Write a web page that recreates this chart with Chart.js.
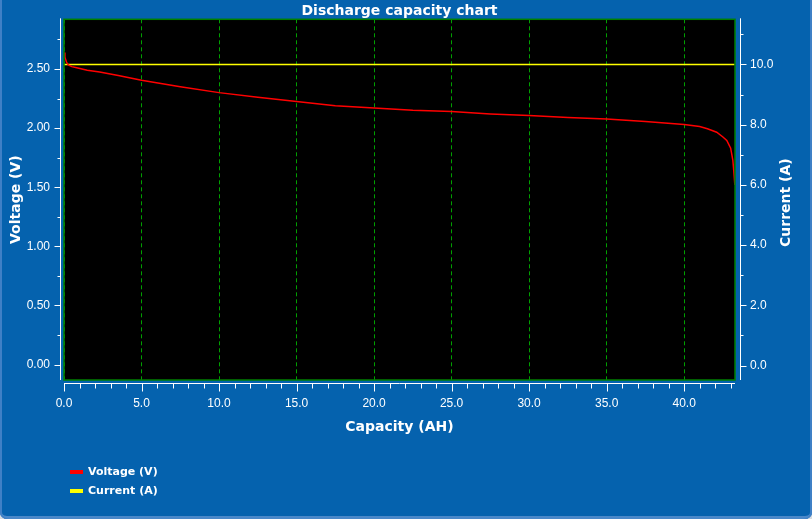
<!DOCTYPE html>
<html>
<head>
<meta charset="utf-8">
<script src="https://cdn.jsdelivr.net/npm/chart.js@4.4.1/dist/chart.umd.min.js"></script>
<style>
  html, body { margin: 0; padding: 0; background: #d8dde3; }
  #wrap {
    position: relative; width: 812px; height: 519px;
    background: #0562ae;
    border-radius: 0 0 7px 7px;
    box-shadow: inset 2px 0 0 #3f80c6, inset -2px 0 0 #3f80c6, inset 0 -3px 0 #4a88c9;
  }
</style>
</head>
<body>
<div id="wrap"><canvas id="my-chart"></canvas></div>
<script>
// discharge curve
const capacity = [0, 0.06, 0.17, 0.28, 0.5, 0.82, 1.5, 2.3, 3.5, 5, 7.5, 10, 12.5, 15, 17.5, 20, 22.5, 25, 27.5, 30, 32.5, 35, 37.5, 40, 41, 41.5, 42.1, 42.5, 42.75, 43.0, 43.14, 43.2, 43.27];
const voltage = [2.64, 2.60, 2.555, 2.535, 2.52, 2.51, 2.49, 2.475, 2.445, 2.405, 2.35, 2.30, 2.26, 2.225, 2.19, 2.17, 2.15, 2.14, 2.12, 2.106, 2.09, 2.078, 2.055, 2.03, 2.013, 1.995, 1.965, 1.925, 1.895, 1.83, 1.73, 1.64, 1.52];
const currentCap = [0, 43.27];
const current = [10.0, 10.0];

const xTicks = [0, 5, 10, 15, 20, 25, 30, 35, 40];
const voltTicks = [0, 0.5, 1.0, 1.5, 2.0, 2.5];
const currTicks = [0, 2, 4, 6, 8, 10];
const currTitle = 'Current (A)';

const white = '#ffffff';
const tickFont = { family: "'Liberation Sans', sans-serif", size: 12 };
const boldFont = { family: "'DejaVu Sans', sans-serif", size: 14, weight: 'bold' };

// no extra room for the tick padding at the ends of the axes
const noPad = s => { s.paddingTop = 0; s.paddingBottom = 0; s.paddingLeft = 0; s.paddingRight = 0; };

// black plot, green frame, offset white axes with minor ticks, legend below
const framePlugin = {
    id: 'frame',
    beforeDraw(chart) {
        const a = chart.chartArea, ctx = chart.ctx;
        ctx.save();
        ctx.fillStyle = '#000';
        ctx.fillRect(a.left, a.top, a.right - a.left, a.bottom - a.top);
        ctx.restore();
    },
    afterDraw(chart) {
        const a = chart.chartArea, ctx = chart.ctx;
        const sx = chart.scales.x, sy = chart.scales.y, sy2 = chart.scales.y2;
        ctx.save();
        ctx.strokeStyle = '#008000';
        ctx.lineWidth = 1.5;
        ctx.strokeRect(a.left, a.top, a.right - a.left, a.bottom - a.top);

        ctx.strokeStyle = white;
        ctx.lineWidth = 1;
        const lx = a.left - 3.5, rx = a.right + 5.5, by = a.bottom + 3.5;
        ctx.beginPath();
        ctx.moveTo(lx, a.top - 1); ctx.lineTo(lx, a.bottom);
        ctx.moveTo(rx, a.top - 1); ctx.lineTo(rx, a.bottom);
        ctx.moveTo(a.left, by); ctx.lineTo(a.right, by);
        for (let v = 0; v <= 2.8; v += 0.25) {
            const p = Math.round(sy.getPixelForValue(v)) + 0.5;
            const len = Math.abs(v / 0.5 - Math.round(v / 0.5)) < 1e-6 ? 6 : 3;
            ctx.moveTo(lx, p); ctx.lineTo(lx - len, p);
        }
        for (let v = 0; v <= 11; v += 1) {
            const p = Math.round(sy2.getPixelForValue(v)) + 0.5;
            const len = v % 2 === 0 ? 6 : 3;
            ctx.moveTo(rx, p); ctx.lineTo(rx + len, p);
        }
        for (let v = 0; v <= 43; v += 1) {
            const p = Math.round(sx.getPixelForValue(v)) + 0.5;
            const len = v % 5 === 0 ? 8 : 5;
            ctx.moveTo(p, by); ctx.lineTo(p, by + len);
        }
        ctx.stroke();

        // right axis title reads bottom to top like the left one
        ctx.fillStyle = white;
        ctx.font = "bold 14px 'DejaVu Sans', sans-serif";
        ctx.textAlign = 'center';
        ctx.textBaseline = 'middle';
        ctx.translate(786.5, (a.top + a.bottom) / 2 + 3);
        ctx.rotate(-Math.PI / 2);
        ctx.fillText(currTitle, 0, 0);
        ctx.setTransform(chart.currentDevicePixelRatio, 0, 0, chart.currentDevicePixelRatio, 0, 0);

        // legend
        ctx.font = "bold 11px 'DejaVu Sans', sans-serif";
        ctx.textAlign = 'left';
        chart.data.datasets.forEach((ds, i) => {
            const y = 472 + i * 19;
            ctx.fillStyle = ds.borderColor;
            ctx.fillRect(70, y - 2, 13, 4);
            ctx.fillStyle = white;
            ctx.fillText(ds.label, 88, y);
        });
        ctx.restore();
    }
};

const ctx = document.getElementById('my-chart').getContext('2d');
const chart = new Chart(ctx, {
    type: 'line',
    data: {
        datasets: [
            {
                label: 'Voltage (V)',
                data: capacity.map((c, i) => ({ x: c, y: voltage[i] })),
                borderColor: '#ff0000',
                borderWidth: 1.5,
                pointRadius: 0,
                tension: 0,
                yAxisID: 'y'
            },
            {
                label: currTitle,
                data: currentCap.map((c, i) => ({ x: c, y: current[i] })),
                borderColor: '#ffff00',
                borderWidth: 1.5,
                pointRadius: 0,
                tension: 0,
                yAxisID: 'y2'
            }
        ]
    },
    options: {
        responsive: true,
        maintainAspectRatio: false,
        animation: false,
        layout: { padding: 0 },
        plugins: {
            legend: { display: false },
            tooltip: { enabled: false },
            title: {
                display: true,
                text: 'Discharge capacity chart',
                color: white,
                font: boldFont,
                fullSize: false,
                padding: { top: 2.5, bottom: 0 }
            }
        },
        scales: {
            x: {
                type: 'linear',
                min: 0,
                max: 43.28,
                afterBuildTicks: s => { s.ticks = xTicks.map(v => ({ value: v })); },
                afterFit: s => { s.height = 139; noPad(s); },
                ticks: { color: white, font: tickFont, padding: 16, maxRotation: 0,
                    callback: v => v.toFixed(1) },
                grid: { color: '#00a000', drawTicks: false, lineWidth: 1 },
                border: { display: false, dash: [4, 3] },
                title: { display: true, text: 'Capacity (AH)', color: white, font: boldFont,
                    padding: { top: 4, bottom: 83 } }
            },
            y: {
                position: 'left',
                min: -0.13,
                max: 2.92,
                afterBuildTicks: s => { s.ticks = voltTicks.map(v => ({ value: v })); },
                afterFit: s => { s.width = 64; noPad(s); },
                ticks: { color: white, font: tickFont, padding: 14,
                    callback: v => v.toFixed(2) },
                grid: { display: false, drawTicks: false },
                border: { display: false },
                title: { display: true, text: 'Voltage (V)', color: white, font: boldFont,
                    padding: { top: 8, bottom: 0 } }
            },
            y2: {
                position: 'right',
                min: -0.48,
                max: 11.5,
                afterBuildTicks: s => { s.ticks = currTicks.map(v => ({ value: v })); },
                afterFit: s => { s.width = 77; noPad(s); },
                ticks: { color: white, font: tickFont, padding: 15,
                    callback: v => v.toFixed(1) },
                grid: { display: false, drawTicks: false },
                border: { display: false }
            }
        }
    },
    plugins: [framePlugin]
});
</script>
</body>
</html>
